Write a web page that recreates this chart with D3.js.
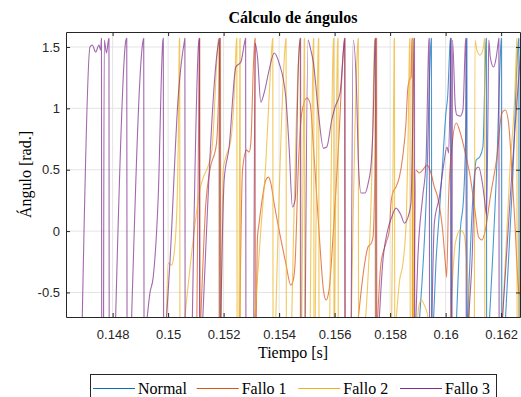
<!DOCTYPE html>
<html>
<head>
<meta charset="utf-8">
<script src="https://cdn.jsdelivr.net/npm/d3@7"></script>
<style>
  html, body { margin: 0; padding: 0; background: #fff; }
  svg { display: block; }
</style>
</head>
<body>
<svg id="chart" width="521" height="397"></svg>
<script>
// Axis ticks and labels
const xTicks = [0.148, 0.15, 0.152, 0.154, 0.156, 0.158, 0.16, 0.162];
const xTickLabels = ["0.148", "0.15", "0.152", "0.154", "0.156", "0.158", "0.16", "0.162"];
const yTicks = [-0.5, 0, 0.5, 1, 1.5];
const yTickLabels = ["-0.5", "0", "0.5", "1", "1.5"];
const xDomain = [0.14632, 0.16268];
const yDomain = [-0.7, 1.622];

const seriesNames = ["Normal", "Fallo 1", "Fallo 2", "Fallo 3"];
const seriesColors = ["#0072BD", "#D95319", "#EDB120", "#7E2F8E"];

// Angle [rad] against time [s]; the angle wraps from +pi/2 to -pi/2
const normal = [
  [0.159053,-1.5708],[0.159064,-0.70],[0.159305,0.28],[0.159478,1.557],[0.159489,1.5708],[0.159500,-1.5708],
  [0.159557,-1.5708],[0.159568,-0.70],[0.159651,-0.261],[0.159773,0.147],[0.159892,0.554],[0.160011,0.962],[0.160072,1.092],[0.160169,1.557],[0.160180,1.5708],[0.160191,-1.5708],
  [0.160385,-1.5708],[0.160396,-0.70],[0.160529,0.008],[0.160648,0.277],[0.160731,0.9],[0.160756,1.557],[0.160767,1.5708],[0.160778,-1.5708],
  [0.160788,-1.5708],[0.160799,-0.70],[0.160983,0.277],[0.161105,0.579],[0.161224,0.603],[0.161343,0.685],[0.161458,1.557],[0.161469,1.5708],[0.161480,-1.5708],
  [0.161573,-1.5708],[0.161584,-0.70],[0.161847,0.554],[0.162005,1.557],[0.162016,1.5708],[0.162027,-1.5708],
  [0.162149,-1.5708],[0.162160,-0.70],[0.162412,0.4],[0.162628,1.557],[0.162639,1.5708],[0.162650,-1.5708],[0.162700,-1.5708]
];

const fallo1 = [
  [0.151025,-1.5708],[0.151036,-0.70],[0.151126,1.557],[0.151140,1.5708],[0.151151,-1.5708],
  [0.151169,-1.5708],[0.151180,-0.70],[0.151360,0.228],[0.151504,0.497],[0.151745,0.717],[0.151846,1.3],[0.151875,1.557],[0.151886,1.5708],[0.151896,-1.5708],
  [0.152573,-1.5708],[0.152584,-0.70],[0.152681,0.497],[0.152825,0.660],[0.152919,0.644],[0.152980,0.717],[0.153077,1.369],[0.153124,1.557],[0.153135,1.5708],[0.153146,-1.5708],
  [0.153167,-1.5708],[0.153178,-0.70],[0.153221,-0.049],[0.153279,0.065],[0.153401,0.277],[0.153520,0.416],[0.153617,0.440],[0.153700,0.391],[0.153819,0.228],[0.153999,0.008],[0.154240,-0.261],[0.154420,-0.440],[0.154510,-0.40],[0.154575,-0.261],[0.154697,0.554],[0.154816,0.962],[0.154996,1.084],[0.155115,1.043],[0.155237,0.685],[0.155356,0.277],[0.155475,-0.130],[0.155597,-0.481],[0.155691,-0.562],[0.155799,-0.481],[0.155957,0.008],[0.156137,0.685],[0.156357,1.557],[0.156371,1.5708],[0.156382,-1.5708],
  [0.156760,-1.5708],[0.156857,-0.70],[0.157084,-0.261],[0.157203,-0.130],[0.157325,-0.098],[0.157383,-0.049],[0.157462,0.65],[0.157502,1.557],[0.157512,1.5708],[0.157521,-1.5708],
  [0.157541,-1.5708],[0.157552,-0.70],[0.157671,-0.261],[0.157851,-0.098],[0.157973,0.008],[0.158031,0.228],[0.158092,0.310],[0.158211,0.359],[0.158333,0.440],[0.158452,0.603],[0.158571,0.880],[0.158632,1.149],[0.158693,1.231],[0.158751,1.255],[0.158787,1.557],[0.158798,1.5708],[0.158808,-1.5708],
  [0.158848,-1.5708],[0.158859,-0.70],[0.158931,0.497],[0.159053,0.473],[0.159172,0.497],[0.159327,0.538],[0.159471,0.473],[0.159593,0.359],[0.159712,0.277],[0.159892,0.008],[0.160011,-0.318],[0.160036,-0.375],[0.160108,0.277],[0.160227,0.685],[0.160385,0.880],[0.160529,0.799],[0.160709,0.636],[0.160889,0.440],[0.161069,0.147],[0.161188,-0.049],[0.161307,-0.073],[0.161431,0.008],[0.161609,0.277],[0.161847,0.603],[0.162027,0.962],[0.162149,0.986],[0.162268,0.880],[0.162387,0.497],[0.162509,0.008],[0.162628,-0.481],[0.162700,-0.538]
];

const fallo2 = [
  [0.149927,-1.5708],[0.149938,-0.70],[0.150003,-0.261],[0.150125,-0.277],[0.150183,-0.236],[0.150305,0.114],[0.150363,0.685],[0.150406,1.557],[0.150417,1.5708],[0.150428,-1.5708],
  [0.150593,-1.5708],[0.150604,-0.70],[0.151144,0.334],[0.151576,0.660],[0.151810,1.557],[0.151821,1.5708],[0.151832,-1.5708],
  [0.151907,-1.5708],[0.151918,-0.70],[0.151983,0.497],[0.152080,0.603],[0.152260,0.742],[0.152379,1.092],[0.152465,1.557],[0.152476,1.5708],[0.152487,-1.5708],
  [0.152544,-1.5708],[0.152555,-0.70],[0.152584,1.557],[0.152595,1.5708],[0.152606,-1.5708],
  [0.153113,-1.5708],[0.153124,-0.70],[0.153340,0.008],[0.153520,0.554],[0.153639,1.092],[0.153761,1.557],[0.153772,1.5708],[0.153783,-1.5708],
  [0.153869,-1.5708],[0.153880,-0.70],[0.154240,1.557],[0.154251,1.5708],[0.154262,-1.5708],
  [0.154445,-1.5708],[0.154456,-0.70],[0.154744,1.557],[0.154755,1.5708],[0.154766,-1.5708],
  [0.154805,-1.5708],[0.154816,-0.70],[0.154906,1.557],[0.154917,1.5708],[0.154928,-1.5708],
  [0.155111,-1.5708],[0.155122,-0.70],[0.155237,1.557],[0.155248,1.5708],[0.155259,-1.5708],
  [0.155291,-1.5708],[0.155302,-0.70],[0.155417,1.557],[0.155428,1.5708],[0.155439,-1.5708],
  [0.155813,-1.5708],[0.155824,-0.70],[0.155957,1.557],[0.155968,1.5708],[0.155979,-1.5708],
  [0.155993,-1.5708],[0.156004,-0.70],[0.156112,1.557],[0.156123,1.5708],[0.156134,-1.5708],
  [0.156594,-1.5708],[0.156605,-0.70],[0.156843,1.557],[0.156854,1.5708],[0.156864,-1.5708],
  [0.157109,-1.5708],[0.157120,-0.70],[0.157336,0.416],[0.157444,1.557],[0.157455,1.5708],[0.157466,-1.5708],
  [0.158045,-1.5708],[0.158056,-0.70],[0.158146,1.557],[0.158157,1.5708],[0.158168,-1.5708],
  [0.158214,-1.5708],[0.158225,-0.70],[0.158344,-0.399],[0.158463,-0.261],[0.158585,0.114],[0.158643,0.685],[0.158704,1.557],[0.158715,1.5708],[0.158726,-1.5708],
  [0.158787,-1.5708],[0.158798,-0.70],[0.158823,1.557],[0.158834,1.5708],[0.158845,-1.5708],
  [0.158902,-1.2],[0.159028,-0.62],[0.159125,-0.562],[0.159226,-0.60],[0.159363,-0.70],[0.159496,-1.2],[0.160000,-1.2],[0.160169,-0.70],[0.160349,-0.098],[0.160529,0.008],[0.160648,-0.016],[0.160767,-0.261],[0.160864,-0.70],[0.160936,-1.2],
  [0.161026,-1.5708],[0.161037,-0.70],[0.161058,1.557],[0.161127,1.475],[0.161235,1.434],[0.161343,1.475],[0.161393,1.557],[0.161404,1.5708],[0.161415,-1.5708],
  [0.162041,-1.5708],[0.162052,-0.70],[0.162329,0.553],[0.162484,1.068],[0.162556,1.516],[0.162567,1.5708],[0.162578,-1.5708],
  [0.162635,-1.5708],[0.162646,-0.70],[0.162700,0.4]
];

const fallo3 = [
  [0.146302,1.5708],[0.146320,-1.5708],
  [0.146878,-1.5708],[0.146907,-0.70],[0.147184,1.500],[0.147267,1.516],[0.147389,1.459],[0.147508,1.516],[0.147569,1.475],[0.147598,1.5708],[0.147609,-1.5708],
  [0.147659,-1.5708],[0.147674,-0.70],[0.147699,1.557],[0.147778,1.451],[0.147850,1.557],[0.147868,1.5708],[0.147879,-1.5708],
  [0.148095,-1.5708],[0.148109,-0.70],[0.148480,1.557],[0.148509,1.5708],[0.148523,-1.5708],
  [0.148671,-1.5708],[0.148685,-0.70],[0.149103,1.557],[0.149121,1.5708],[0.149135,-1.5708],
  [0.149236,-1.5708],[0.149247,-0.70],[0.149344,-0.505],[0.149463,-0.375],[0.149643,0.277],[0.149812,1.557],[0.149826,1.5708],[0.149841,-1.5708],
  [0.149934,-1.5708],[0.149945,-0.70],[0.150064,-0.261],[0.150363,1.092],[0.150593,1.557],[0.150604,1.5708],[0.150615,-1.5708],
  [0.150863,-1.5708],[0.150874,-0.70],[0.151108,1.557],[0.151126,1.5708],[0.151137,-1.5708],
  [0.151241,-1.5708],[0.151252,-0.70],[0.151792,1.500],[0.151853,1.5708],[0.151864,-1.5708],
  [0.151889,-1.5708],[0.151900,-0.70],[0.152019,0.416],[0.152199,0.685],[0.152440,1.337],[0.152620,1.377],[0.152775,1.557],[0.152793,1.5708],[0.152807,-1.5708],
  [0.153077,-1.5708],[0.153088,-0.70],[0.153135,1.532],[0.153221,1.418],[0.153340,1.051],[0.153459,1.125],[0.153639,1.312],[0.153819,1.451],[0.153999,1.369],[0.154240,1.092],[0.154359,0.685],[0.154481,0.196],[0.154582,0.26],[0.154697,1.369],[0.154755,1.557],[0.154773,1.5708],[0.154787,-1.5708],
  [0.154931,-1.5708],[0.154942,-0.70],[0.155043,1.557],[0.155115,1.500],[0.155237,1.369],[0.155417,0.962],[0.155597,0.676],[0.155716,0.685],[0.155896,0.905],[0.156015,1.011],[0.156195,1.125],[0.156353,1.557],[0.156364,1.5708],[0.156375,-1.5708],
  [0.156587,-1.5708],[0.156598,-0.70],[0.156670,1.557],[0.156796,1.092],[0.156857,0.554],[0.156951,0.310],[0.157095,0.310],[0.157210,0.391],[0.157318,0.554],[0.157379,0.823],[0.157462,1.557],[0.157480,1.5708],[0.157491,-1.5708],
  [0.157602,-1.5708],[0.157613,-0.70],[0.157732,-0.261],[0.157912,0.008],[0.158056,0.114],[0.158211,0.187],[0.158391,0.130],[0.158513,0.065],[0.158632,0.106],[0.158751,0.228],[0.158812,0.823],[0.158866,1.557],[0.158877,1.5708],[0.158888,-1.5708],
  [0.158920,-1.5708],[0.158931,-0.70],[0.158992,-0.261],[0.159172,0.277],[0.159291,0.554],[0.159399,1.557],[0.159410,1.5708],[0.159424,-1.5708],
  [0.159496,-1.5708],[0.159507,-0.70],[0.159593,0.065],[0.159773,0.277],[0.159928,0.538],[0.160047,0.685],[0.160108,0.636],[0.160162,1.149],[0.160187,1.557],[0.160198,1.5708],[0.160209,-1.5708],
  [0.160220,-1.5708],[0.160230,-0.70],[0.160248,1.557],[0.160349,1.011],[0.160407,0.945],[0.160529,0.937],[0.160623,0.986],[0.160720,1.557],[0.160734,1.5708],[0.160745,-1.5708],
  [0.160817,-1.5708],[0.160828,-0.70],[0.160947,-0.261],[0.161069,0.497],[0.161188,0.522],[0.161307,0.416],[0.161404,0.253],[0.161476,0.130],[0.161530,1.068],[0.161555,1.557],[0.161609,1.418],[0.161728,1.337],[0.161825,1.418],[0.161908,1.557],[0.161919,1.5708],[0.161930,-1.5708],
  [0.162041,-1.5708],[0.162052,-0.70],[0.162329,0.277],[0.162520,0.9],[0.162700,1.45]
];

const seriesData = [normal, fallo1, fallo2, fallo3];

// Split a wrapped-angle series into drawable runs: each run starts where the
// angle climbs into view and ends with its drop from +pi/2 to -pi/2.
function wrapRuns(data) {
  const runs = [];
  let cur = [];
  data.forEach((d, i) => {
    const prev = data[i - 1];
    if (d[1] <= -1.5) {
      if (prev && prev[1] >= 1.5) cur.push(d);
      if (cur.length > 1) runs.push(cur);
      cur = [];
    } else {
      cur.push(d);
    }
  });
  if (cur.length > 1) runs.push(cur);
  return runs;
}

const svg = d3.select("#chart");
const plot = { left: 66, right: 520, top: 32, bottom: 317 };

const x = d3.scaleLinear().domain(xDomain).range([plot.left, plot.right]);
const y = d3.scaleLinear().domain(yDomain).range([plot.bottom, plot.top]);

const axisColor = "#262626";
const tickFont = "'Liberation Sans', Arial, Helvetica, sans-serif";
const serifFont = "'Liberation Serif', 'Times New Roman', Times, serif";

// plot background
svg.append("rect")
  .attr("x", plot.left).attr("y", plot.top)
  .attr("width", plot.right - plot.left).attr("height", plot.bottom - plot.top)
  .attr("fill", "#fff");

// grid
const grid = svg.append("g").attr("class", "grid");
grid.selectAll("line.gx").data(xTicks).join("line")
  .attr("x1", d => x(d)).attr("x2", d => x(d))
  .attr("y1", plot.top).attr("y2", plot.bottom)
  .attr("stroke", "#e4e4e4").attr("stroke-width", 1);
grid.selectAll("line.gy").data(yTicks).join("line")
  .attr("x1", plot.left).attr("x2", plot.right)
  .attr("y1", d => y(d)).attr("y2", d => y(d))
  .attr("stroke", "#e4e4e4").attr("stroke-width", 1);

// series lines, clipped to the axes box
svg.append("clipPath").attr("id", "plotClip")
  .append("rect")
  .attr("x", plot.left).attr("y", plot.top)
  .attr("width", plot.right - plot.left).attr("height", plot.bottom - plot.top);

const line = d3.line()
  .x(d => x(d[0]))
  .y(d => y(d[1]))
  .curve(d3.curveMonotoneX);
const lines = svg.append("g").attr("clip-path", "url(#plotClip)");
seriesData.forEach((data, i) => {
  lines.append("g")
    .selectAll("path")
    .data(wrapRuns(data))
    .join("path")
    .attr("d", line)
    .attr("fill", "none")
    .attr("stroke", seriesColors[i])
    .attr("stroke-width", 1.1)
    .attr("stroke-opacity", 0.72)
    .attr("stroke-linejoin", "round");
});

// axes (ticks pointing inward on all four sides)
function styleAxis(g) {
  g.selectAll(".domain").attr("stroke", axisColor).attr("stroke-width", 1);
  g.selectAll(".tick line").attr("stroke", axisColor).attr("stroke-width", 1);
  g.selectAll(".tick text")
    .attr("fill", axisColor)
    .attr("font-family", tickFont)
    .attr("font-size", 13);
}

svg.append("g")
  .attr("transform", `translate(0,${plot.bottom})`)
  .call(d3.axisBottom(x).tickValues(xTicks)
    .tickFormat((d, i) => xTickLabels[i])
    .tickSizeInner(-4).tickSizeOuter(0).tickPadding(13))
  .call(styleAxis);

svg.append("g")
  .attr("transform", `translate(0,${plot.top})`)
  .call(d3.axisTop(x).tickValues(xTicks).tickFormat("")
    .tickSizeInner(-4).tickSizeOuter(0))
  .call(styleAxis);

svg.append("g")
  .attr("transform", `translate(${plot.left},0)`)
  .call(d3.axisLeft(y).tickValues(yTicks)
    .tickFormat((d, i) => yTickLabels[i])
    .tickSizeInner(-4).tickSizeOuter(0).tickPadding(6))
  .call(styleAxis);

svg.append("g")
  .attr("transform", `translate(${plot.right},0)`)
  .call(d3.axisRight(y).tickValues(yTicks).tickFormat("")
    .tickSizeInner(-4).tickSizeOuter(0))
  .call(styleAxis);

// titles
svg.append("text")
  .attr("x", (plot.left + plot.right) / 2).attr("y", 23)
  .attr("text-anchor", "middle")
  .attr("font-family", serifFont).attr("font-weight", "bold")
  .attr("font-size", 16).attr("fill", "#000")
  .text("Cálculo de ángulos");

svg.append("text")
  .attr("x", (plot.left + plot.right) / 2).attr("y", 357.5)
  .attr("text-anchor", "middle")
  .attr("font-family", serifFont).attr("font-size", 16).attr("fill", "#000")
  .text("Tiempo [s]");

svg.append("text")
  .attr("transform", `translate(31,${(plot.top + plot.bottom) / 2}) rotate(-90)`)
  .attr("text-anchor", "middle")
  .attr("font-family", serifFont).attr("font-size", 16).attr("fill", "#000")
  .text("Ángulo [rad.]");

// legend
const legend = svg.append("g");
legend.append("rect")
  .attr("x", 90.5).attr("y", 374.5)
  .attr("width", 406).attr("height", 40)
  .attr("fill", "#fff").attr("stroke", axisColor).attr("stroke-width", 1);

const legendX = [93, 196.7, 298.3, 400];
seriesNames.forEach((name, i) => {
  const g = legend.append("g").attr("transform", `translate(${legendX[i]},0)`);
  g.append("line")
    .attr("x1", 0).attr("x2", 42)
    .attr("y1", 388.5).attr("y2", 388.5)
    .attr("stroke", seriesColors[i]).attr("stroke-width", 1.1);
  g.append("text")
    .attr("x", 45).attr("y", 393.5)
    .attr("font-family", serifFont).attr("font-size", 16).attr("fill", "#000")
    .text(name);
});
</script>
</body>
</html>
